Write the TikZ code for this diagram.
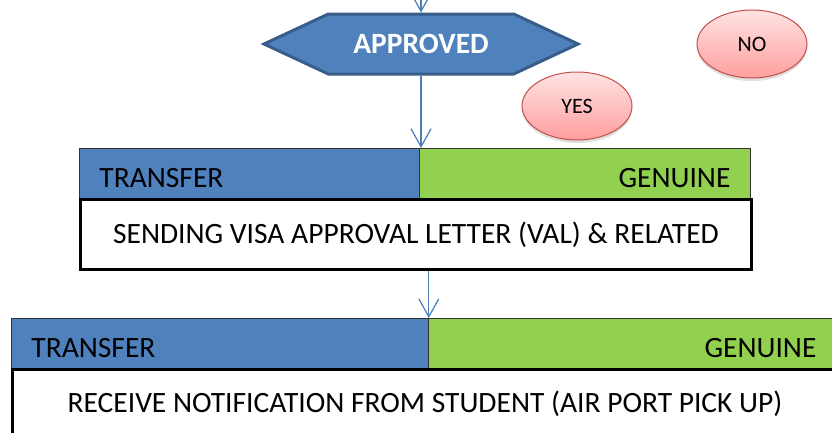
\documentclass[tikz,border=0pt]{standalone}
\usepackage{fontspec}
\setmainfont{Carlito}
\usetikzlibrary{arrows.meta,shapes.symbols,shapes.geometric,shadows}
\definecolor{accblue}{HTML}{4F81BD}
\definecolor{hexborder}{HTML}{385D8A}
\definecolor{accgreen}{HTML}{92D050}
\definecolor{pinklight}{HTML}{FFE3E3}
\definecolor{pinkdark}{HTML}{FF9E9E}
\definecolor{pinkborder}{HTML}{C0504D}
\definecolor{arrowblue}{HTML}{4A7EBB}
\newcommand{\bartext}[1]{\raisebox{-4.5pt}[\height][\depth]{#1}}
\begin{document}
\begin{tikzpicture}[x=1pt,y=-1pt,
  hexa/.style={shape=signal, signal to=east and west, signal pointer angle=50,
    fill=accblue, draw=hexborder, line width=3pt, minimum width=314pt, minimum height=60pt,
    inner sep=0pt, text=white, font=\fontsize{29.5}{31}\selectfont\bfseries},
  pill/.style={ellipse, draw=pinkborder, line width=1pt, top color=pinklight, bottom color=pinkdark,
    minimum width=110pt, minimum height=68pt, inner sep=0pt, font=\fontsize{22}{24}\selectfont,
    drop shadow={opacity=0.25, shadow xshift=0pt, shadow yshift=-3pt}},
  barleft/.style={rectangle, draw=black!80, line width=0.8pt, fill=accblue, anchor=north west,
    minimum height=50pt, inner xsep=20pt, inner ysep=0pt, align=left, font=\fontsize{29.5}{31}\selectfont},
  barright/.style={rectangle, draw=black!80, line width=0.8pt, fill=accgreen, anchor=north west,
    minimum height=50pt, inner xsep=20pt, inner ysep=0pt, align=right, font=\fontsize{29.5}{31}\selectfont},
  stepbox/.style={rectangle, draw=black, line width=3pt, fill=white, anchor=north west,
    inner sep=0pt, font=\fontsize{29.5}{31}\selectfont},
  conn/.style={draw=arrowblue, line width=1.2pt, -{Straight Barb[length=18pt,width=20pt,line width=1.2pt]}}
]
\useasboundingbox (0,0) rectangle (832,432);

% top step
\node[barleft, text width=300pt] (tr1) at (79,148) {\bartext{TRANSFER}};
\node[barright, text width=291pt] (ge1) at (419,148) {\bartext{GENUINE}};
\node[stepbox, minimum width=671pt, minimum height=70pt] (box1) at (79,198) {SENDING VISA APPROVAL LETTER (VAL) \& RELATED};

% bottom step
\node[barleft, text width=377pt] (tr2) at (11,318) {\bartext{TRANSFER}};
\node[barright, text width=368pt] (ge2) at (428,318) {\bartext{GENUINE}};
\node[stepbox, minimum width=825pt, minimum height=68pt] (box2) at (11,368) {RECEIVE NOTIFICATION FROM STUDENT (AIR PORT PICK UP)};

% decision
\node[hexa] (approved) at (421,44) {APPROVED};
\node[pill] (no) at (752,44) {NO};
\node[pill] (yes) at (577,106) {YES};

% connectors
\coordinate (topin) at (421,-5);
\draw[conn] (topin) -- (approved.north);
\draw[conn] (approved.south) -- (approved.south |- tr1.north);
\draw[conn] (tr2.north east |- box1.south) -- (tr2.north east);
\end{tikzpicture}
\end{document}
